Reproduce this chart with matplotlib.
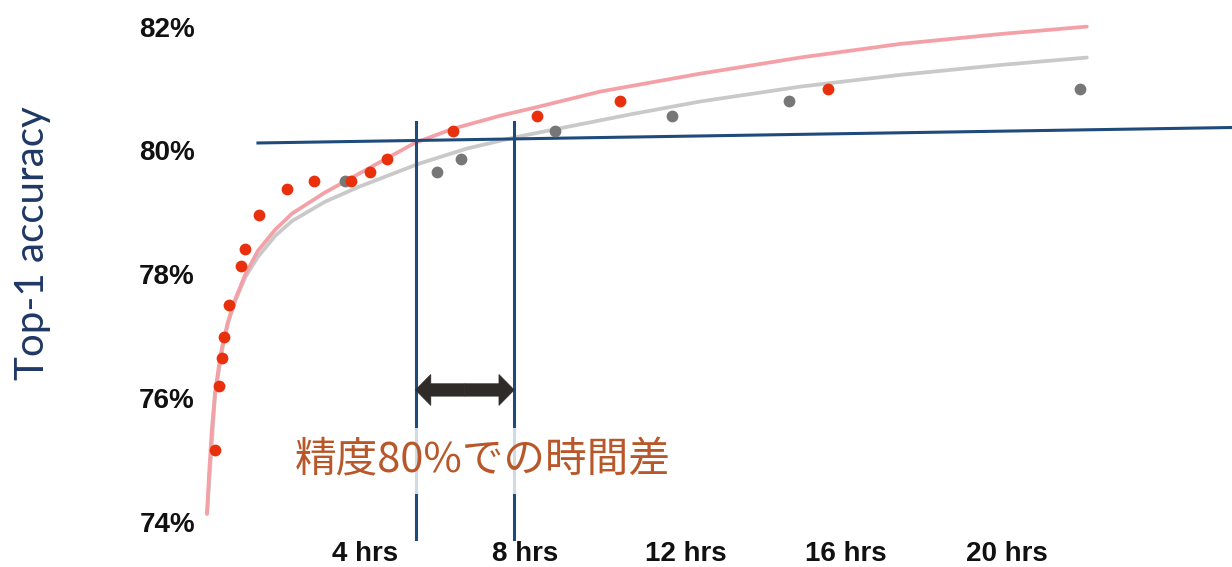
import matplotlib
matplotlib.use("Agg")
import matplotlib.pyplot as plt
from matplotlib.patches import FancyArrow

# --- data (hours, top-1 accuracy %) ---
red_hours = [0.26, 0.36, 0.43, 0.48, 0.61, 0.91, 1.01, 1.36, 2.05, 2.73, 3.65,
             4.12, 4.55, 6.19, 8.29, 10.36, 15.55]
red_acc = [75.16, 76.20, 76.65, 76.99, 77.51, 78.14, 78.41, 78.96, 79.38, 79.51,
           79.51, 79.65, 79.86, 80.32, 80.56, 80.80, 81.00]

gray_hours = [3.50, 5.80, 6.39, 8.74, 11.66, 14.57, 21.83]
gray_acc = [79.51, 79.65, 79.86, 80.32, 80.56, 80.80, 81.00]

# fitted trend curves
pink_curve_h = [0.06, 0.11, 0.18, 0.26, 0.36, 0.43, 0.58, 0.76, 1.01, 1.33, 1.76,
                2.18, 3.00, 3.84, 4.51, 5.24, 6.19, 7.37, 8.29, 9.86, 12.36,
                14.85, 17.34, 19.84, 22.00]
pink_curve_acc = [74.13, 74.76, 75.49, 76.08, 76.54, 76.81, 77.23, 77.59, 77.99,
                  78.38, 78.72, 78.98, 79.32, 79.62, 79.86, 80.12, 80.35, 80.56,
                  80.70, 80.95, 81.24, 81.50, 81.72, 81.88, 82.00]

gray_curve_h = [0.06, 0.26, 0.43, 0.58, 0.76, 1.01, 1.33, 1.76, 2.18, 3.00, 3.84,
                4.64, 5.32, 6.54, 7.73, 8.73, 10.68, 12.36, 14.85, 17.34, 19.84,
                22.00]
gray_curve_acc = [74.13, 76.05, 76.75, 77.20, 77.56, 77.95, 78.28, 78.62, 78.86,
                  79.17, 79.41, 79.61, 79.78, 80.03, 80.21, 80.34, 80.59, 80.79,
                  81.03, 81.22, 81.38, 81.50]

# 80% reference line and the two crossing times
ref_line_h = [1.33, 25.62]
ref_line_acc = [80.12, 80.37]
cross_hours = [5.26, 7.72]
cross_top, cross_bottom = 80.46, 73.71
arrow_acc = 76.13

tick_hours = [4, 8, 12, 16, 20]
tick_labels = ["4 hrs", "8 hrs", "12 hrs", "16 hrs", "20 hrs"]
ytick_vals = [74, 76, 78, 80, 82]
ytick_labels = ["74%", "76%", "78%", "80%", "82%"]

annotation = "精度80%での時間差"

navy = "#1F4A7C"

fig = plt.figure(figsize=(12.32, 5.67), dpi=100)
ax = fig.add_axes([0.1661, 0.0459, 0.8339, 0.9541])
ax.set_xlim(0, 25.62)
ax.set_ylim(73.69, 82.43)

# trend curves
ax.plot(gray_curve_h, gray_curve_acc, color="#C9C9C9", lw=2.7, zorder=2,
        solid_capstyle="round", solid_joinstyle="round")
ax.plot(pink_curve_h, pink_curve_acc, color="#F3A1A7", lw=2.7, zorder=3,
        solid_capstyle="round", solid_joinstyle="round")

# reference lines
ax.plot(ref_line_h, ref_line_acc, color=navy, lw=2.2, zorder=4)
for h in cross_hours:
    ax.plot([h, h], [cross_bottom, cross_top], color=navy, lw=2.2, zorder=4)

# measured points
ax.scatter(gray_hours, gray_acc, s=72, color="#777777", zorder=5, linewidths=0)
ax.scatter(red_hours, red_acc, s=72, color="#E8300C", zorder=6, linewidths=0)

# double arrow between the two times (two halves from the middle)
mid = (cross_hours[0] + cross_hours[1]) / 2
for end in cross_hours:
    ax.add_patch(FancyArrow(mid, arrow_acc, end - mid, 0, width=0.2,
                            head_width=0.5, head_length=0.38,
                            length_includes_head=True, color="#2E2B28",
                            linewidth=0.5, zorder=7))

ax.text(6.94, 74.99, annotation, ha="center", va="center", fontsize=30,
        color="#B8582A", family=["Noto Sans CJK JP", "DejaVu Sans"], zorder=8,
        bbox=dict(boxstyle="square,pad=0.3", facecolor="white",
                  edgecolor="none", alpha=0.8))

ax.set_xticks(tick_hours)
ax.set_xticklabels(tick_labels)
ax.set_yticks(ytick_vals)
ax.set_yticklabels(ytick_labels)
ax.tick_params(length=0, labelsize=20, pad=7)
ax.tick_params(axis="x", pad=0)
for lbl in ax.get_xticklabels() + ax.get_yticklabels():
    lbl.set_fontfamily("Liberation Sans")
    lbl.set_fontweight("bold")
    lbl.set_color("#111111")
for s in ax.spines.values():
    s.set_visible(False)

fig.text(33 / 1232, 1 - 243 / 567, "Top-1 accuracy", rotation=90,
         ha="center", va="center", fontsize=29, color="#1F3864",
         family=["Lato", "DejaVu Sans"])

fig.savefig("out.png", dpi=100)
